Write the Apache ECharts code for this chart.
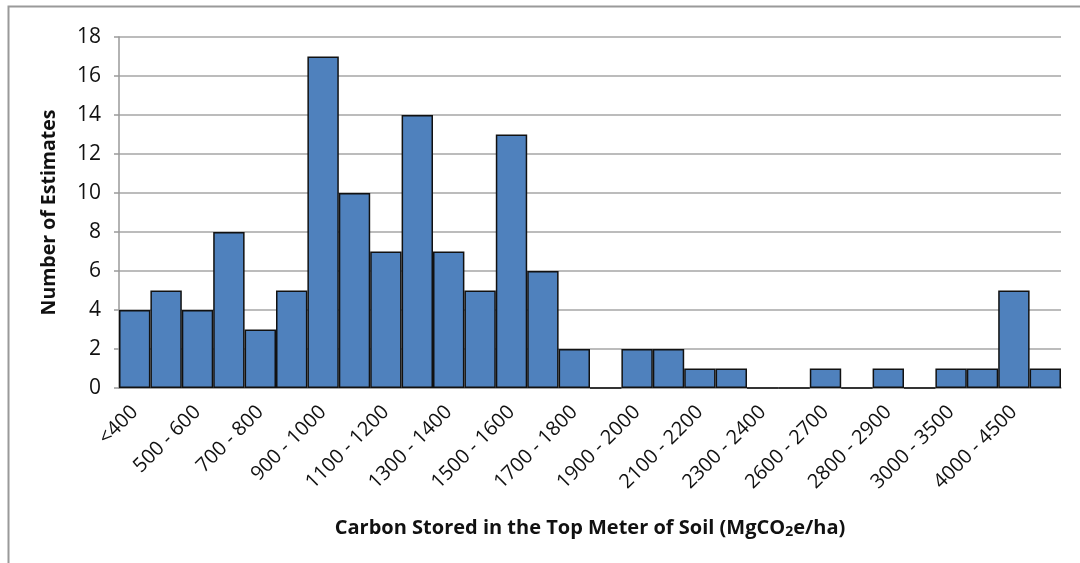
<!DOCTYPE html>
<html>
<head>
<meta charset="utf-8">
<script src="https://cdn.jsdelivr.net/npm/echarts@6/dist/echarts.min.js"></script>
<style>
html, body { margin: 0; padding: 0; background: #fff; }
#chart { width: 1080px; height: 563px; }
</style>
</head>
<body>
<div id="chart"></div>
<script>
// soil carbon bins (MgCO2e/ha)
var bins = ['<400', '400 - 500', '500 - 600', '600 - 700', '700 - 800', '800 - 900',
  '900 - 1000', '1000 - 1100', '1100 - 1200', '1200 - 1300', '1300 - 1400', '1400 - 1500',
  '1500 - 1600', '1600 - 1700', '1700 - 1800', '1800 - 1900', '1900 - 2000', '2000 - 2100',
  '2100 - 2200', '2200 - 2300', '2300 - 2400', '2400 - 2600', '2600 - 2700', '2700 - 2800',
  '2800 - 2900', '2900 - 3000', '3000 - 3500', '3500 - 4000', '4000 - 4500', '>4500'];
var counts = [4, 5, 4, 8, 3, 5, 17, 10, 7, 14, 7, 5, 13, 6, 2, 0, 2, 2, 1, 1, 0, 0, 1, 0, 1, 0, 1, 1, 5, 1];
var yTicks = [0, 18, 2];

var font = '"Open Sans", "Noto Sans", sans-serif';
var chart = echarts.init(document.getElementById('chart'));
chart.setOption({
	animation: false,
	grid: { left: 119, right: 19, top: 37, bottom: 175 },
	graphic: [{
		type: 'rect',
		shape: { x: 8.5, y: 6.5, width: 1200, height: 700 },
		style: { fill: 'none', stroke: '#9a9a9a', lineWidth: 2 },
		silent: true
	}],
	xAxis: {
		type: 'category',
		data: bins,
		axisLine: { lineStyle: { color: '#9a9a9a', width: 1.5 } },
		axisTick: { alignWithLabel: false, interval: 0, length: 5, lineStyle: { color: '#9a9a9a', width: 1.5 } },
		axisLabel: { interval: 1, rotate: 45, margin: 21, color: '#111', fontSize: 20, fontFamily: font },
		name: '{a|Carbon Stored in the Top Meter of Soil (MgCO}{s|2}{a|e/ha)}',
		nameLocation: 'middle',
		nameGap: 128,
		nameTextStyle: {
			rich: {
				a: { fontSize: 20, fontWeight: 'bold', color: '#111', fontFamily: font, lineHeight: 24 },
				s: { fontSize: 14, fontWeight: 'bold', color: '#111', fontFamily: font, lineHeight: 24, padding: [9, 0, 0, 0] }
			}
		}
	},
	yAxis: {
		type: 'value',
		min: yTicks[0],
		max: yTicks[1],
		interval: yTicks[2],
		name: 'Number of Estimates',
		nameLocation: 'middle',
		nameGap: 60,
		nameTextStyle: { fontSize: 19.5, fontWeight: 'bold', color: '#111', fontFamily: font },
		axisLine: { show: true, lineStyle: { color: '#9a9a9a', width: 1.5 } },
		axisTick: { show: true, length: 5, lineStyle: { color: '#9a9a9a', width: 1.5 } },
		axisLabel: { color: '#111', fontSize: 21, margin: 18, fontFamily: font },
		splitLine: { lineStyle: { color: '#a6a6a6', width: 1.5 } }
	},
	series: [{
		type: 'bar',
		data: counts,
		barCategoryGap: 0,
		itemStyle: { color: '#4f81bd', borderColor: '#111', borderWidth: 1.5 }
	}]
});
</script>
</body>
</html>
